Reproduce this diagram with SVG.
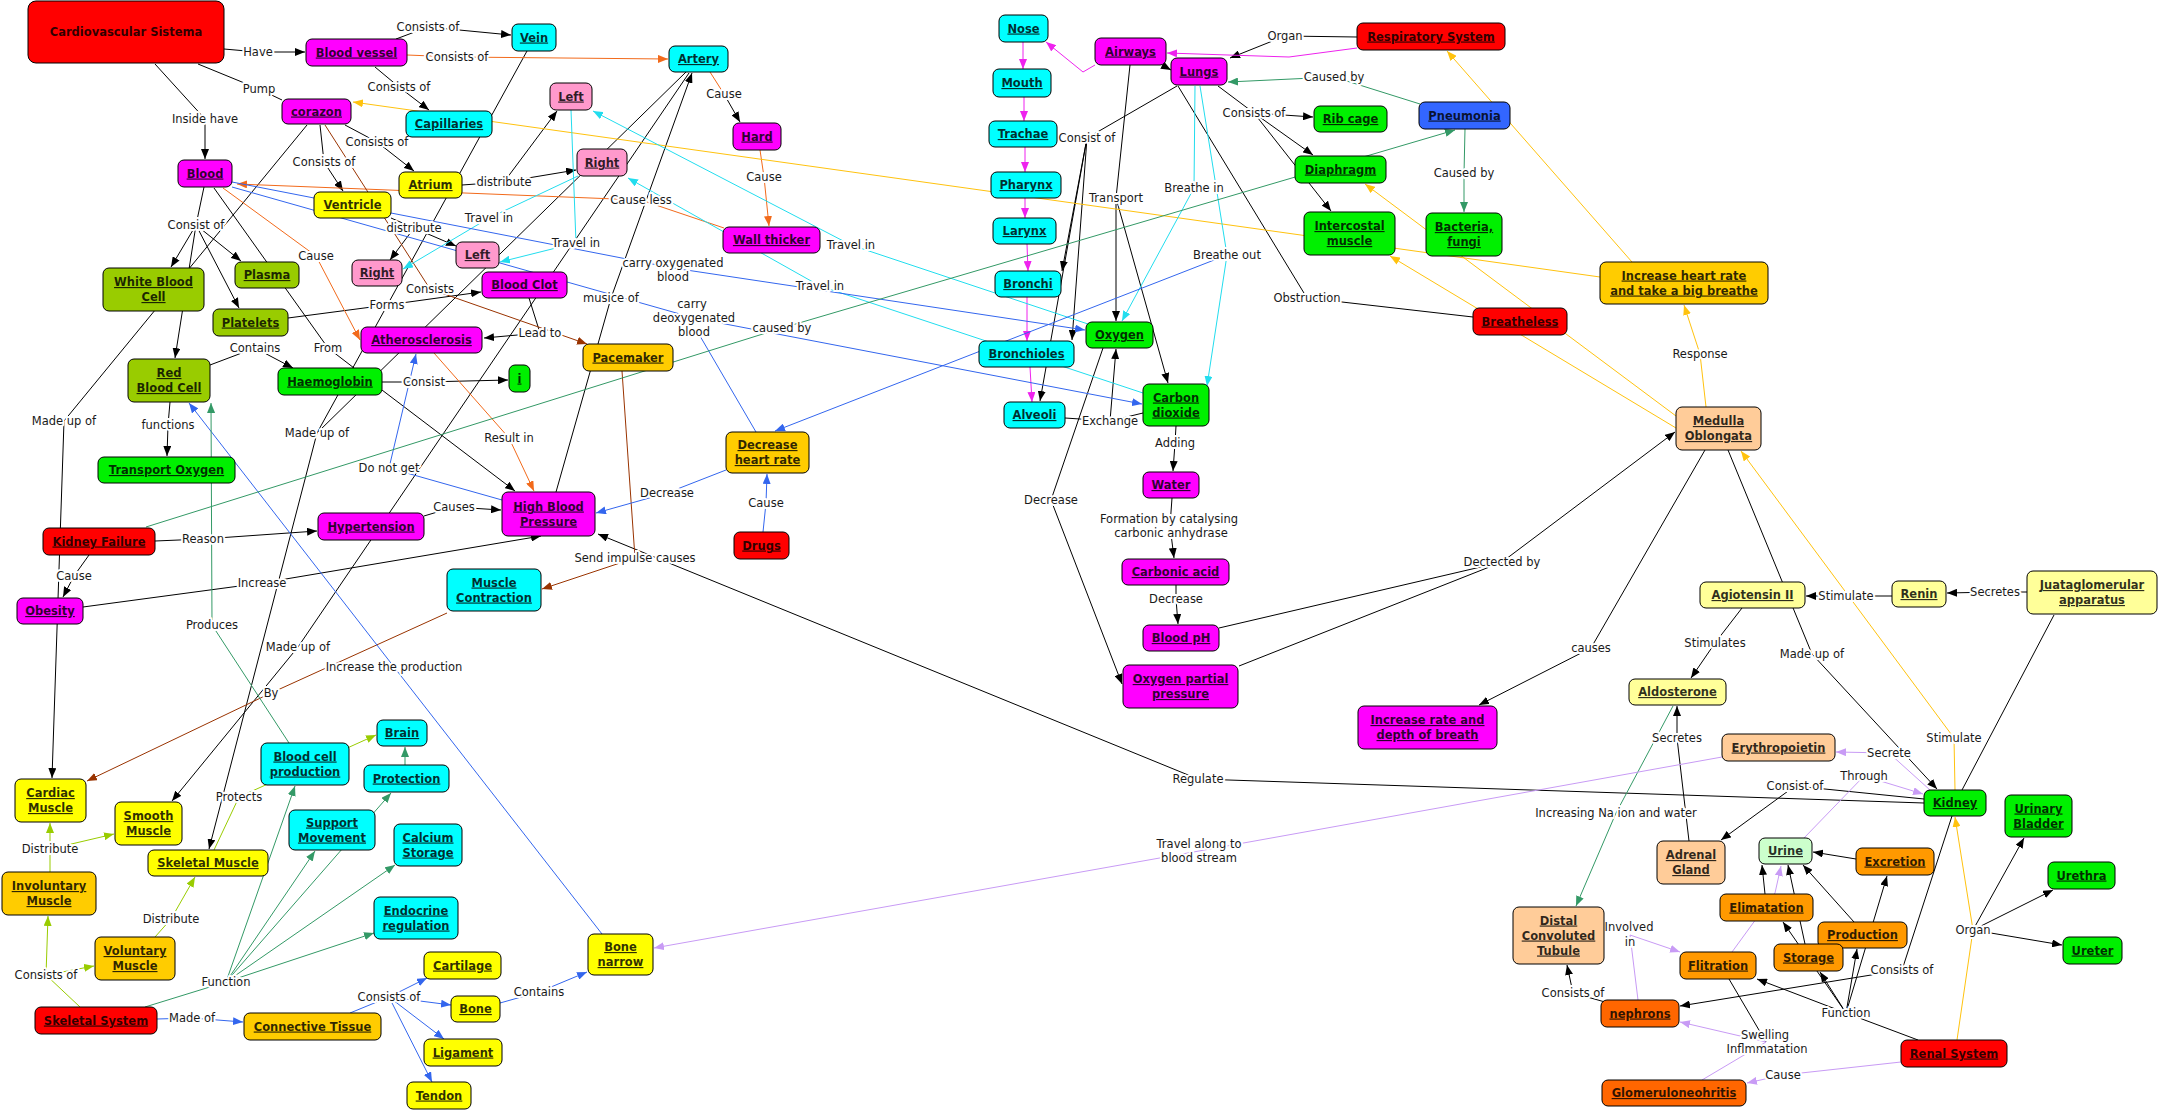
<svg xmlns="http://www.w3.org/2000/svg" width="2158" height="1112" viewBox="0 0 2158 1112">
<style>
.n rect{stroke:#000;stroke-width:1}
.t{font-family:"DejaVu Sans",Verdana,sans-serif;font-size:11.5px;font-weight:bold;text-anchor:middle;text-decoration:underline;fill:#000;fill-opacity:.82}
.nu{text-decoration:none}
.l{font-family:"DejaVu Sans",Verdana,sans-serif;font-size:11.5px;text-anchor:middle;fill:#1a1a1a;stroke:#fff;stroke-width:4;stroke-linejoin:round;paint-order:stroke}
#connectors path{fill:none;stroke-width:1}
.k{stroke:#000}.o{stroke:#F26A1B}.br{stroke:#993300}.y{stroke:#FFC20E}.m{stroke:#EE22EE}.c{stroke:#22DDEE}.b{stroke:#3366EE}.g{stroke:#339966}.yg{stroke:#99CC00}.p{stroke:#C89BF5}
.r{fill:#FF0000}.mg{fill:#FF00FF}.cy{fill:#00FFFF}.ye{fill:#FFFF00}.pk{fill:#FF99CC}.ol{fill:#99CC00}.gr{fill:#00F000}.or{fill:#FFCC00}.o2{fill:#FF9900}.o3{fill:#FF6600}.pe{fill:#FFCC99}.ly{fill:#FFFF99}.lg{fill:#CCFFCC}.bl{fill:#3366FF}
</style>
<defs>
<marker id="ak" viewBox="0 0 10 8" refX="10" refY="4" markerWidth="10" markerHeight="8" markerUnits="userSpaceOnUse" orient="auto"><path d="M0,0L10,4L0,8z" fill="#000"/></marker>
<marker id="ao" viewBox="0 0 10 8" refX="10" refY="4" markerWidth="10" markerHeight="8" markerUnits="userSpaceOnUse" orient="auto"><path d="M0,0L10,4L0,8z" fill="#F26A1B"/></marker>
<marker id="abr" viewBox="0 0 10 8" refX="10" refY="4" markerWidth="10" markerHeight="8" markerUnits="userSpaceOnUse" orient="auto"><path d="M0,0L10,4L0,8z" fill="#993300"/></marker>
<marker id="ay" viewBox="0 0 10 8" refX="10" refY="4" markerWidth="10" markerHeight="8" markerUnits="userSpaceOnUse" orient="auto"><path d="M0,0L10,4L0,8z" fill="#FFC20E"/></marker>
<marker id="am" viewBox="0 0 10 8" refX="10" refY="4" markerWidth="10" markerHeight="8" markerUnits="userSpaceOnUse" orient="auto"><path d="M0,0L10,4L0,8z" fill="#EE22EE"/></marker>
<marker id="ac" viewBox="0 0 10 8" refX="10" refY="4" markerWidth="10" markerHeight="8" markerUnits="userSpaceOnUse" orient="auto"><path d="M0,0L10,4L0,8z" fill="#22DDEE"/></marker>
<marker id="ab" viewBox="0 0 10 8" refX="10" refY="4" markerWidth="10" markerHeight="8" markerUnits="userSpaceOnUse" orient="auto"><path d="M0,0L10,4L0,8z" fill="#3366EE"/></marker>
<marker id="ag" viewBox="0 0 10 8" refX="10" refY="4" markerWidth="10" markerHeight="8" markerUnits="userSpaceOnUse" orient="auto"><path d="M0,0L10,4L0,8z" fill="#339966"/></marker>
<marker id="ayg" viewBox="0 0 10 8" refX="10" refY="4" markerWidth="10" markerHeight="8" markerUnits="userSpaceOnUse" orient="auto"><path d="M0,0L10,4L0,8z" fill="#99CC00"/></marker>
<marker id="ap" viewBox="0 0 10 8" refX="10" refY="4" markerWidth="10" markerHeight="8" markerUnits="userSpaceOnUse" orient="auto"><path d="M0,0L10,4L0,8z" fill="#C89BF5"/></marker>
</defs>
<rect width="2158" height="1112" fill="#fff"/>
<g id="connectors">
<g class="k">
<path d="M224,49L258,52"/><path d="M258,52L305,52" marker-end="url(#ak)"/>
<path d="M198,64L259,89L282,100"/>
<path d="M155,64L205,119"/><path d="M205,119L205,159" marker-end="url(#ak)"/>
<path d="M396,39L428,27"/><path d="M428,27L511,35" marker-end="url(#ak)"/>
<path d="M375,67L399,87"/><path d="M399,87L429,110" marker-end="url(#ak)"/>
<path d="M345,125L377,142"/><path d="M377,142L414,171" marker-end="url(#ak)"/>
<path d="M320,125L324,162"/><path d="M324,162L343,191" marker-end="url(#ak)"/>
<path d="M1218,86L1254,113"/><path d="M1254,113L1313,117" marker-end="url(#ak)"/><path d="M1254,113L1313,155" marker-end="url(#ak)"/><path d="M1254,113L1331,211" marker-end="url(#ak)"/>
<path d="M1357,37L1285,36"/><path d="M1285,36L1230,58" marker-end="url(#ak)"/>
<path d="M1130,65L1116,198"/><path d="M1116,198L1116,321" marker-end="url(#ak)"/><path d="M1116,198L1168,383" marker-end="url(#ak)"/>
<path d="M1177,86L1087,138"/><path d="M1087,138L1062,271" marker-end="url(#ak)"/><path d="M1087,138L1072,340" marker-end="url(#ak)"/><path d="M1087,138L1040,401" marker-end="url(#ak)"/>
<path d="M462,185L504,182"/><path d="M504,182L576,170" marker-end="url(#ak)"/><path d="M504,182L557,111" marker-end="url(#ak)"/>
<path d="M391,218L414,228"/><path d="M414,228L456,246" marker-end="url(#ak)"/><path d="M414,228L390,260" marker-end="url(#ak)"/>
<path d="M288,318L387,305"/><path d="M387,305L481,292" marker-end="url(#ak)"/>
<path d="M529,298L540,333"/><path d="M540,333L484,338" marker-end="url(#ak)"/>
<path d="M214,188L328,348L354,368"/>
<path d="M210,365L255,348"/><path d="M255,348L293,368" marker-end="url(#ak)"/>
<path d="M382,382L424,382"/><path d="M424,382L508,380" marker-end="url(#ak)"/>
<path d="M204,187L196,225"/><path d="M196,225L171,267" marker-end="url(#ak)"/><path d="M196,225L241,261" marker-end="url(#ak)"/><path d="M196,225L239,308" marker-end="url(#ak)"/><path d="M196,225L175,358" marker-end="url(#ak)"/>
<path d="M307,125L64,421"/><path d="M64,421L52,778" marker-end="url(#ak)"/>
<path d="M170,402L168,425"/><path d="M168,425L167,456" marker-end="url(#ak)"/>
<path d="M382,390L515,491" marker-end="url(#ak)"/>
<path d="M527,51L317,433"/><path d="M686,72L317,433"/><path d="M317,433L209,849" marker-end="url(#ak)"/>
<path d="M689,73L298,647"/><path d="M298,647L172,801" marker-end="url(#ak)"/>
<path d="M556,492L611,298"/><path d="M611,298L692,73" marker-end="url(#ak)"/>
<path d="M424,516L454,507"/><path d="M454,507L501,510" marker-end="url(#ak)"/>
<path d="M155,541L203,539"/><path d="M203,539L317,531" marker-end="url(#ak)"/>
<path d="M89,555L74,576"/><path d="M74,576L63,597" marker-end="url(#ak)"/>
<path d="M83,607L262,583"/><path d="M262,583L541,536" marker-end="url(#ak)"/>
<path d="M1924,803L1198,779"/><path d="M1198,779L598,534" marker-end="url(#ak)"/>
<path d="M1065,418L1110,421"/><path d="M1110,421L1143,413"/><path d="M1110,421L1116,349" marker-end="url(#ak)"/>
<path d="M1103,348L1051,500"/><path d="M1051,500L1122,684" marker-end="url(#ak)"/>
<path d="M1176,426L1175,443"/><path d="M1175,443L1173,471" marker-end="url(#ak)"/>
<path d="M1172,498L1170,526"/><path d="M1170,526L1174,558" marker-end="url(#ak)"/>
<path d="M1176,585L1176,599"/><path d="M1176,599L1178,624" marker-end="url(#ak)"/>
<path d="M1219,628L1502,562"/><path d="M1239,666L1502,562"/><path d="M1502,562L1675,432" marker-end="url(#ak)"/>
<path d="M1705,450L1591,648"/><path d="M1591,648L1479,705" marker-end="url(#ak)"/>
<path d="M1728,450L1812,654"/><path d="M1812,654L1937,789" marker-end="url(#ak)"/>
<path d="M1973,930L2024,838" marker-end="url(#ak)"/><path d="M1973,930L2053,890" marker-end="url(#ak)"/><path d="M1973,930L2062,945" marker-end="url(#ak)"/>
<path d="M1892,596L1846,596"/><path d="M1846,596L1806,596" marker-end="url(#ak)"/>
<path d="M2027,592L1995,592"/><path d="M1995,592L1947,593" marker-end="url(#ak)"/>
<path d="M1742,608L1715,643"/><path d="M1715,643L1691,678" marker-end="url(#ak)"/>
<path d="M2054,615L1962,790"/>
<path d="M1689,841L1677,738"/><path d="M1677,738L1677,706" marker-end="url(#ak)"/>
<path d="M1924,799L1795,786"/><path d="M1795,786L1721,840" marker-end="url(#ak)"/>
<path d="M1856,859L1813,852" marker-end="url(#ak)"/>
<path d="M1765,894L1762,865" marker-end="url(#ak)"/>
<path d="M1805,944L1788,865" marker-end="url(#ak)"/>
<path d="M1854,922L1803,865" marker-end="url(#ak)"/>
<path d="M1918,1040L1846,1013"/><path d="M1846,1013L1757,979" marker-end="url(#ak)"/><path d="M1846,1013L1820,972" marker-end="url(#ak)"/><path d="M1846,1013L1857,949" marker-end="url(#ak)"/><path d="M1846,1013L1887,876" marker-end="url(#ak)"/><path d="M1846,1013L1783,922" marker-end="url(#ak)"/>
<path d="M1952,816L1902,970"/><path d="M1902,970L1680,1006" marker-end="url(#ak)"/>
<path d="M1729,979L1766,1042"/>
<path d="M1605,1002L1573,993"/><path d="M1573,993L1567,965" marker-end="url(#ak)"/>
<path d="M1178,86L1307,298L1473,317"/>
<path d="M724,94L740,122" marker-end="url(#ak)"/>
<path d="M1162,65L1171,70" marker-end="url(#ak)"/>
</g>
<g class="o">
<path d="M407,55L457,57"/><path d="M457,57L668,59" marker-end="url(#ao)"/>
<path d="M710,72L724,94"/>
<path d="M760,150L764,177"/><path d="M764,177L769,226" marker-end="url(#ao)"/>
<path d="M724,228L641,200"/><path d="M641,200L237,184" marker-end="url(#ao)"/>
<path d="M223,188L316,256"/><path d="M316,256L360,340" marker-end="url(#ao)"/>
<path d="M434,353L509,438"/><path d="M509,438L534,491" marker-end="url(#ao)"/>
</g>
<g class="br">
<path d="M325,125L430,289"/><path d="M430,289L587,344" marker-end="url(#abr)"/>
<path d="M622,371L635,558"/><path d="M635,558L542,589" marker-end="url(#abr)"/>
<path d="M447,613L271,693"/><path d="M271,693L87,781" marker-end="url(#abr)"/>
</g>
<g class="y">
<path d="M1600,277L353,102" marker-end="url(#ay)"/>
<path d="M1632,262L1447,51" marker-end="url(#ay)"/>
<path d="M1706,407L1700,354"/><path d="M1700,354L1684,305" marker-end="url(#ay)"/>
<path d="M1676,416L1365,184" marker-end="url(#ay)"/>
<path d="M1676,428L1390,256" marker-end="url(#ay)"/>
<path d="M1955,790L1954,738"/><path d="M1954,738L1741,451" marker-end="url(#ay)"/>
<path d="M1957,1040L1973,930"/><path d="M1973,930L1955,817" marker-end="url(#ay)"/>
</g>
<g class="m">
<path d="M1357,48L1289,57L1167,53" marker-end="url(#am)"/>
<path d="M1095,65L1083,72L1046,42" marker-end="url(#am)"/>
<path d="M1023,42L1023,69" marker-end="url(#am)"/>
<path d="M1024,97L1024,121" marker-end="url(#am)"/>
<path d="M1025,147L1025,172" marker-end="url(#am)"/>
<path d="M1025,198L1025,218" marker-end="url(#am)"/>
<path d="M1027,244L1028,271" marker-end="url(#am)"/>
<path d="M1027,297L1027,341" marker-end="url(#am)"/>
<path d="M1030,367L1032,402" marker-end="url(#am)"/>
</g>
<g class="c">
<path d="M1195,86L1194,188"/><path d="M1194,188L1122,321" marker-end="url(#ac)"/>
<path d="M1200,86L1227,255"/><path d="M1227,255L1207,386" marker-end="url(#ac)"/>
<path d="M1088,324L851,245"/><path d="M851,245L593,111" marker-end="url(#ac)"/>
<path d="M1143,393L820,286"/><path d="M820,286L628,178" marker-end="url(#ac)"/>
<path d="M578,176L489,218"/><path d="M489,218L403,269" marker-end="url(#ac)"/>
<path d="M571,110L576,243"/><path d="M576,243L500,262" marker-end="url(#ac)"/>
</g>
<g class="b">
<path d="M1227,255L775,431" marker-end="url(#ab)"/>
<path d="M232,182L673,268"/><path d="M673,268L1085,330" marker-end="url(#ab)"/>
<path d="M232,187L694,318"/><path d="M694,318L1142,404" marker-end="url(#ab)"/>
<path d="M700,336L756,432"/>
<path d="M602,934L394,667"/><path d="M394,667L189,403" marker-end="url(#ab)"/>
<path d="M502,500L389,468"/><path d="M389,468L416,354" marker-end="url(#ab)"/>
<path d="M726,470L667,493"/><path d="M667,493L596,513" marker-end="url(#ab)"/>
<path d="M763,532L766,503"/><path d="M766,503L767,474" marker-end="url(#ab)"/>
<path d="M157,1019L192,1018"/><path d="M192,1018L243,1022" marker-end="url(#ab)"/>
<path d="M350,1013L389,997"/><path d="M389,997L427,978" marker-end="url(#ab)"/><path d="M389,997L451,1005" marker-end="url(#ab)"/><path d="M389,997L444,1039" marker-end="url(#ab)"/><path d="M389,997L432,1082" marker-end="url(#ab)"/>
<path d="M500,1003L539,992"/><path d="M539,992L587,972" marker-end="url(#ab)"/>
</g>
<g class="g">
<path d="M1420,104L1334,77"/><path d="M1334,77L1228,82" marker-end="url(#ag)"/>
<path d="M1465,129L1464,174"/><path d="M1464,174L1464,212" marker-end="url(#ag)"/>
<path d="M146,527L782,328"/><path d="M782,328L1455,130" marker-end="url(#ag)"/>
<path d="M289,743L212,625"/><path d="M212,625L211,403" marker-end="url(#ag)"/>
<path d="M1673,706L1616,813"/><path d="M1616,813L1576,906" marker-end="url(#ag)"/>
<path d="M145,1007L226,982"/><path d="M226,982L295,786" marker-end="url(#ag)"/><path d="M226,982L315,851" marker-end="url(#ag)"/><path d="M226,982L391,793" marker-end="url(#ag)"/><path d="M226,982L395,865" marker-end="url(#ag)"/><path d="M226,982L374,933" marker-end="url(#ag)"/>
<path d="M405,765L405,747" marker-end="url(#ag)"/>
</g>
<g class="yg">
<path d="M80,1007L46,975"/><path d="M46,975L48,916" marker-end="url(#ayg)"/><path d="M46,975L94,966" marker-end="url(#ayg)"/>
<path d="M50,872L50,849"/><path d="M50,849L50,823" marker-end="url(#ayg)"/><path d="M50,849L114,834" marker-end="url(#ayg)"/>
<path d="M155,937L171,919"/><path d="M171,919L195,877" marker-end="url(#ayg)"/>
<path d="M214,850L239,797"/><path d="M239,797L376,735" marker-end="url(#ayg)"/>
</g>
<g class="p">
<path d="M1930,790L1889,753"/><path d="M1889,753L1836,752" marker-end="url(#ap)"/>
<path d="M1804,838L1864,776"/><path d="M1864,776L1923,794" marker-end="url(#ap)"/>
<path d="M1722,757L1199,851"/><path d="M1199,851L654,948" marker-end="url(#ap)"/>
<path d="M1732,952L1775,893L1781,866" marker-end="url(#ap)"/>
<path d="M1702,1080L1766,1042"/><path d="M1766,1042L1680,1022" marker-end="url(#ap)"/>
<path d="M1901,1062L1783,1075"/><path d="M1783,1075L1747,1083" marker-end="url(#ap)"/>
<path d="M1638,1000L1630,935"/><path d="M1630,935L1680,952" marker-end="url(#ap)"/>
</g>
<g id="labels">
<text class="l" x="258" y="56">Have</text>
<text class="l" x="259" y="93">Pump</text>
<text class="l" x="205" y="123">Inside have</text>
<text class="l" x="428" y="31">Consists of</text>
<text class="l" x="457" y="61">Consists of</text>
<text class="l" x="399" y="91">Consists of</text>
<text class="l" x="377" y="146">Consists of</text>
<text class="l" x="324" y="166">Consists of</text>
<text class="l" x="196" y="229">Consist of</text>
<text class="l" x="316" y="260">Cause</text>
<text class="l" x="504" y="186">distribute</text>
<text class="l" x="414" y="232">distribute</text>
<text class="l" x="489" y="222">Travel in</text>
<text class="l" x="576" y="247">Travel in</text>
<text class="l" x="430" y="293">Consists</text>
<text class="l" x="387" y="309">Forms</text>
<text class="l" x="540" y="337">Lead to</text>
<text class="l" x="255" y="352">Contains</text>
<text class="l" x="328" y="352">From</text>
<text class="l" x="424" y="386">Consist</text>
<text class="l" x="64" y="425">Made up of</text>
<text class="l" x="168" y="429">functions</text>
<text class="l" x="317" y="437">Made up of</text>
<text class="l" x="389" y="472">Do not get</text>
<text class="l" x="509" y="442">Result in</text>
<text class="l" x="454" y="511">Causes</text>
<text class="l" x="203" y="543">Reason</text>
<text class="l" x="74" y="580">Cause</text>
<text class="l" x="262" y="587">Increase</text>
<text class="l" x="212" y="629">Produces</text>
<text class="l" x="298" y="651">Made up of</text>
<text class="l" x="394" y="671">Increase the production</text>
<text class="l" x="271" y="697">By</text>
<text class="l" x="239" y="801">Protects</text>
<text class="l" x="50" y="853">Distribute</text>
<text class="l" x="171" y="923">Distribute</text>
<text class="l" x="46" y="979">Consists of</text>
<text class="l" x="226" y="986">Function</text>
<text class="l" x="192" y="1022">Made of</text>
<text class="l" x="389" y="1001">Consists of</text>
<text class="l" x="539" y="996">Contains</text>
<text class="l" x="724" y="98">Cause</text>
<text class="l" x="764" y="181">Cause</text>
<text class="l" x="641" y="204">Cause less</text>
<text class="l" x="851" y="249">Travel in</text>
<text class="l" x="673" y="267">carry oxygenated</text>
<text class="l" x="673" y="281">blood</text>
<text class="l" x="611" y="302">musice of</text>
<text class="l" x="820" y="290">Travel in</text>
<text class="l" x="692" y="308">carry</text>
<text class="l" x="694" y="322">deoxygenated</text>
<text class="l" x="694" y="336">blood</text>
<text class="l" x="782" y="332">caused by</text>
<text class="l" x="667" y="497">Decrease</text>
<text class="l" x="766" y="507">Cause</text>
<text class="l" x="635" y="562">Send impulse causes</text>
<text class="l" x="1087" y="142">Consist of</text>
<text class="l" x="1116" y="202">Transport</text>
<text class="l" x="1194" y="192">Breathe in</text>
<text class="l" x="1227" y="259">Breathe out</text>
<text class="l" x="1285" y="40">Organ</text>
<text class="l" x="1334" y="81">Caused by</text>
<text class="l" x="1254" y="117">Consists of</text>
<text class="l" x="1464" y="177">Caused by</text>
<text class="l" x="1307" y="302">Obstruction</text>
<text class="l" x="1110" y="425">Exchange</text>
<text class="l" x="1051" y="504">Decrease</text>
<text class="l" x="1175" y="447">Adding</text>
<text class="l" x="1169" y="523">Formation by catalysing</text>
<text class="l" x="1171" y="537">carbonic anhydrase</text>
<text class="l" x="1176" y="603">Decrease</text>
<text class="l" x="1502" y="566">Dectected by</text>
<text class="l" x="1591" y="652">causes</text>
<text class="l" x="1700" y="358">Response</text>
<text class="l" x="1846" y="600">Stimulate</text>
<text class="l" x="1995" y="596">Secretes</text>
<text class="l" x="1715" y="647">Stimulates</text>
<text class="l" x="1812" y="658">Made up of</text>
<text class="l" x="1954" y="742">Stimulate</text>
<text class="l" x="1677" y="742">Secretes</text>
<text class="l" x="1889" y="757">Secrete</text>
<text class="l" x="1864" y="780">Through</text>
<text class="l" x="1795" y="790">Consist of</text>
<text class="l" x="1198" y="783">Regulate</text>
<text class="l" x="1616" y="817">Increasing Na ion and water</text>
<text class="l" x="1199" y="848">Travel along to</text>
<text class="l" x="1199" y="862">blood stream</text>
<text class="l" x="1629" y="931">Involved</text>
<text class="l" x="1630" y="946">in</text>
<text class="l" x="1573" y="997">Consists of</text>
<text class="l" x="1973" y="934">Organ</text>
<text class="l" x="1902" y="974">Consists of</text>
<text class="l" x="1846" y="1017">Function</text>
<text class="l" x="1765" y="1039">Swelling</text>
<text class="l" x="1767" y="1053">Inflmmatation</text>
<text class="l" x="1783" y="1079">Cause</text>
</g>
</g>
<g id="cardiovascular-sistema" class="n"><rect class="r" x="28" y="1" width="196" height="62" rx="8"/><text class="t nu" x="126" y="36">Cardiovascular Sistema</text></g>
<g id="blood-vessel" class="n"><rect class="mg" x="306" y="39" width="101" height="27" rx="6"/><text class="t" x="356.5" y="56.5">Blood vessel</text></g>
<g id="vein" class="n"><rect class="cy" x="512" y="24" width="44" height="27" rx="6"/><text class="t" x="534" y="41.5">Vein</text></g>
<g id="corazon" class="n"><rect class="mg" x="282" y="99" width="69" height="25" rx="6"/><text class="t" x="316.5" y="115.5">corazon</text></g>
<g id="capillaries" class="n"><rect class="cy" x="406" y="111" width="86" height="26" rx="6"/><text class="t" x="449" y="128">Capillaries</text></g>
<g id="artery" class="n"><rect class="cy" x="669" y="46" width="59" height="26" rx="6"/><text class="t" x="698.5" y="63">Artery</text></g>
<g id="left-upper" class="n"><rect class="pk" x="550" y="83" width="42" height="27" rx="6"/><text class="t" x="571" y="100.5">Left</text></g>
<g id="hard" class="n"><rect class="mg" x="733" y="123" width="48" height="27" rx="6"/><text class="t" x="757" y="140.5">Hard</text></g>
<g id="right-upper" class="n"><rect class="pk" x="577" y="149" width="50" height="27" rx="6"/><text class="t" x="602" y="166.5">Right</text></g>
<g id="blood" class="n"><rect class="mg" x="178" y="160" width="54" height="27" rx="6"/><text class="t" x="205" y="177.5">Blood</text></g>
<g id="atrium" class="n"><rect class="ye" x="399" y="172" width="63" height="26" rx="6"/><text class="t" x="430.5" y="189">Atrium</text></g>
<g id="ventricle" class="n"><rect class="ye" x="314" y="192" width="77" height="26" rx="6"/><text class="t" x="352.5" y="209">Ventricle</text></g>
<g id="wall-thicker" class="n"><rect class="mg" x="723" y="227" width="97" height="26" rx="6"/><text class="t" x="771.5" y="244">Wall thicker</text></g>
<g id="left-lower" class="n"><rect class="pk" x="456" y="242" width="43" height="26" rx="6"/><text class="t" x="477.5" y="259">Left</text></g>
<g id="right-lower" class="n"><rect class="pk" x="352" y="260" width="50" height="26" rx="6"/><text class="t" x="377" y="277">Right</text></g>
<g id="plasma" class="n"><rect class="ol" x="235" y="262" width="64" height="26" rx="6"/><text class="t" x="267" y="279">Plasma</text></g>
<g id="white-blood-cell" class="n"><rect class="ol" x="103" y="268" width="101" height="43" rx="6"/><text class="t" x="153.5" y="286">White Blood</text><text class="t" x="153.5" y="301">Cell</text></g>
<g id="blood-clot" class="n"><rect class="mg" x="482" y="272" width="85" height="26" rx="6"/><text class="t" x="524.5" y="289">Blood Clot</text></g>
<g id="platelets" class="n"><rect class="ol" x="213" y="309" width="75" height="27" rx="6"/><text class="t" x="250.5" y="326.5">Platelets</text></g>
<g id="atherosclerosis" class="n"><rect class="mg" x="361" y="327" width="121" height="26" rx="6"/><text class="t" x="421.5" y="344">Atherosclerosis</text></g>
<g id="pacemaker" class="n"><rect class="or" x="583" y="344" width="90" height="27" rx="6"/><text class="t" x="628" y="361.5">Pacemaker</text></g>
<g id="red-blood-cell" class="n"><rect class="ol" x="128" y="359" width="82" height="43" rx="6"/><text class="t" x="169" y="377">Red</text><text class="t" x="169" y="392">Blood Cell</text></g>
<g id="haemoglobin" class="n"><rect class="gr" x="278" y="368" width="104" height="27" rx="6"/><text class="t" x="330" y="385.5">Haemoglobin</text></g>
<g id="i" class="n"><rect class="gr" x="509" y="365" width="21" height="27" rx="6"/><text class="t" x="519.5" y="382.5">i</text></g>
<g id="transport-oxygen" class="n"><rect class="gr" x="98" y="457" width="137" height="26" rx="6"/><text class="t" x="166.5" y="474">Transport Oxygen</text></g>
<g id="high-blood-pressure" class="n"><rect class="mg" x="502" y="492" width="93" height="44" rx="6"/><text class="t" x="548.5" y="510.5">High Blood</text><text class="t" x="548.5" y="525.5">Pressure</text></g>
<g id="hypertension" class="n"><rect class="mg" x="318" y="513" width="106" height="27" rx="6"/><text class="t" x="371" y="530.5">Hypertension</text></g>
<g id="kidney-failure" class="n"><rect class="r" x="43" y="528" width="112" height="27" rx="6"/><text class="t" x="99" y="545.5">Kidney Failure</text></g>
<g id="muscle-contraction" class="n"><rect class="cy" x="447" y="569" width="94" height="42" rx="6"/><text class="t" x="494" y="586.5">Muscle</text><text class="t" x="494" y="601.5">Contraction</text></g>
<g id="obesity" class="n"><rect class="mg" x="17" y="598" width="66" height="26" rx="6"/><text class="t" x="50" y="615">Obesity</text></g>
<g id="decrease-heart-rate" class="n"><rect class="or" x="726" y="432" width="83" height="41" rx="6"/><text class="t" x="767.5" y="449">Decrease</text><text class="t" x="767.5" y="464">heart rate</text></g>
<g id="drugs" class="n"><rect class="r" x="734" y="532" width="55" height="27" rx="6"/><text class="t" x="761.5" y="549.5">Drugs</text></g>
<g id="brain" class="n"><rect class="cy" x="377" y="720" width="50" height="26" rx="6"/><text class="t" x="402" y="737">Brain</text></g>
<g id="blood-cell-production" class="n"><rect class="cy" x="261" y="743" width="88" height="42" rx="6"/><text class="t" x="305" y="760.5">Blood cell</text><text class="t" x="305" y="775.5">production</text></g>
<g id="protection" class="n"><rect class="cy" x="364" y="765" width="85" height="27" rx="6"/><text class="t" x="406.5" y="782.5">Protection</text></g>
<g id="cardiac-muscle" class="n"><rect class="ye" x="15" y="779" width="71" height="43" rx="6"/><text class="t" x="50.5" y="797">Cardiac</text><text class="t" x="50.5" y="812">Muscle</text></g>
<g id="smooth-muscle" class="n"><rect class="ye" x="115" y="802" width="67" height="43" rx="6"/><text class="t" x="148.5" y="820">Smooth</text><text class="t" x="148.5" y="835">Muscle</text></g>
<g id="support-movement" class="n"><rect class="cy" x="289" y="810" width="86" height="40" rx="6"/><text class="t" x="332" y="826.5">Support</text><text class="t" x="332" y="841.5">Movement</text></g>
<g id="calcium-storage" class="n"><rect class="cy" x="394" y="824" width="68" height="42" rx="6"/><text class="t" x="428" y="841.5">Calcium</text><text class="t" x="428" y="856.5">Storage</text></g>
<g id="skeletal-muscle" class="n"><rect class="ye" x="148" y="850" width="120" height="26" rx="6"/><text class="t" x="208" y="867">Skeletal Muscle</text></g>
<g id="involuntary-muscle" class="n"><rect class="or" x="2" y="872" width="94" height="43" rx="6"/><text class="t" x="49" y="890">Involuntary</text><text class="t" x="49" y="905">Muscle</text></g>
<g id="endocrine-regulation" class="n"><rect class="cy" x="374" y="897" width="84" height="42" rx="6"/><text class="t" x="416" y="914.5">Endocrine</text><text class="t" x="416" y="929.5">regulation</text></g>
<g id="voluntary-muscle" class="n"><rect class="or" x="95" y="937" width="80" height="43" rx="6"/><text class="t" x="135" y="955">Voluntary</text><text class="t" x="135" y="970">Muscle</text></g>
<g id="cartilage" class="n"><rect class="ye" x="424" y="952" width="77" height="27" rx="6"/><text class="t" x="462.5" y="969.5">Cartilage</text></g>
<g id="bone" class="n"><rect class="ye" x="451" y="996" width="49" height="26" rx="6"/><text class="t" x="475.5" y="1013">Bone</text></g>
<g id="skeletal-system" class="n"><rect class="r" x="35" y="1007" width="122" height="27" rx="6"/><text class="t" x="96" y="1024.5">Skeletal System</text></g>
<g id="connective-tissue" class="n"><rect class="or" x="244" y="1013" width="137" height="27" rx="6"/><text class="t" x="312.5" y="1030.5">Connective Tissue</text></g>
<g id="ligament" class="n"><rect class="ye" x="424" y="1039" width="78" height="27" rx="6"/><text class="t" x="463" y="1056.5">Ligament</text></g>
<g id="tendon" class="n"><rect class="ye" x="407" y="1082" width="64" height="27" rx="6"/><text class="t" x="439" y="1099.5">Tendon</text></g>
<g id="bone-narrow" class="n"><rect class="ye" x="588" y="934" width="65" height="41" rx="6"/><text class="t" x="620.5" y="951">Bone</text><text class="t" x="620.5" y="966">narrow</text></g>
<g id="nose" class="n"><rect class="cy" x="999" y="15" width="49" height="27" rx="6"/><text class="t" x="1023.5" y="32.5">Nose</text></g>
<g id="mouth" class="n"><rect class="cy" x="993" y="69" width="58" height="28" rx="6"/><text class="t" x="1022" y="87">Mouth</text></g>
<g id="trachae" class="n"><rect class="cy" x="989" y="121" width="68" height="26" rx="6"/><text class="t" x="1023" y="138">Trachae</text></g>
<g id="pharynx" class="n"><rect class="cy" x="991" y="172" width="70" height="26" rx="6"/><text class="t" x="1026" y="189">Pharynx</text></g>
<g id="larynx" class="n"><rect class="cy" x="993" y="218" width="63" height="26" rx="6"/><text class="t" x="1024.5" y="235">Larynx</text></g>
<g id="bronchi" class="n"><rect class="cy" x="995" y="271" width="66" height="26" rx="6"/><text class="t" x="1028" y="288">Bronchi</text></g>
<g id="bronchioles" class="n"><rect class="cy" x="979" y="341" width="95" height="26" rx="6"/><text class="t" x="1026.5" y="358">Bronchioles</text></g>
<g id="alveoli" class="n"><rect class="cy" x="1004" y="402" width="61" height="26" rx="6"/><text class="t" x="1034.5" y="419">Alveoli</text></g>
<g id="airways" class="n"><rect class="mg" x="1095" y="38" width="71" height="27" rx="6"/><text class="t" x="1130.5" y="55.5">Airways</text></g>
<g id="lungs" class="n"><rect class="mg" x="1171" y="58" width="56" height="27" rx="6"/><text class="t" x="1199" y="75.5">Lungs</text></g>
<g id="respiratory-system" class="n"><rect class="r" x="1357" y="23" width="148" height="27" rx="6"/><text class="t" x="1431" y="40.5">Respiratory System</text></g>
<g id="rib-cage" class="n"><rect class="gr" x="1314" y="106" width="73" height="26" rx="6"/><text class="t" x="1350.5" y="123">Rib cage</text></g>
<g id="pneumonia" class="n"><rect class="bl" x="1419" y="102" width="91" height="27" rx="6"/><text class="t" x="1464.5" y="119.5">Pneumonia</text></g>
<g id="diaphragm" class="n"><rect class="gr" x="1295" y="156" width="91" height="27" rx="6"/><text class="t" x="1340.5" y="173.5">Diaphragm</text></g>
<g id="intercostal-muscle" class="n"><rect class="gr" x="1304" y="212" width="91" height="43" rx="6"/><text class="t" x="1349.5" y="230">Intercostal</text><text class="t" x="1349.5" y="245">muscle</text></g>
<g id="bacteria-fungi" class="n"><rect class="gr" x="1426" y="213" width="76" height="43" rx="6"/><text class="t" x="1464" y="231">Bacteria,</text><text class="t" x="1464" y="246">fungi</text></g>
<g id="breatheless" class="n"><rect class="r" x="1473" y="308" width="94" height="27" rx="6"/><text class="t" x="1520" y="325.5">Breatheless</text></g>
<g id="increase-heart-rate" class="n"><rect class="or" x="1600" y="262" width="168" height="42" rx="6"/><text class="t" x="1684" y="279.5">Increase heart rate</text><text class="t" x="1684" y="294.5">and take a big breathe</text></g>
<g id="oxygen" class="n"><rect class="gr" x="1086" y="322" width="67" height="26" rx="6"/><text class="t" x="1119.5" y="339">Oxygen</text></g>
<g id="carbon-dioxide" class="n"><rect class="gr" x="1143" y="384" width="66" height="42" rx="6"/><text class="t" x="1176" y="401.5">Carbon</text><text class="t" x="1176" y="416.5">dioxide</text></g>
<g id="water" class="n"><rect class="mg" x="1143" y="472" width="56" height="26" rx="6"/><text class="t" x="1171" y="489">Water</text></g>
<g id="carbonic-acid" class="n"><rect class="mg" x="1122" y="559" width="107" height="26" rx="6"/><text class="t" x="1175.5" y="576">Carbonic acid</text></g>
<g id="blood-ph" class="n"><rect class="mg" x="1143" y="625" width="76" height="26" rx="6"/><text class="t" x="1181" y="642">Blood pH</text></g>
<g id="oxygen-partial-pressure" class="n"><rect class="mg" x="1123" y="665" width="115" height="43" rx="6"/><text class="t" x="1180.5" y="683">Oxygen partial</text><text class="t" x="1180.5" y="698">pressure</text></g>
<g id="increase-rate-depth" class="n"><rect class="mg" x="1358" y="706" width="139" height="43" rx="6"/><text class="t" x="1427.5" y="724">Increase rate and</text><text class="t" x="1427.5" y="739">depth of breath</text></g>
<g id="medulla-oblongata" class="n"><rect class="pe" x="1676" y="407" width="85" height="43" rx="6"/><text class="t" x="1718.5" y="425">Medulla</text><text class="t" x="1718.5" y="440">Oblongata</text></g>
<g id="agiotensin-ii" class="n"><rect class="ly" x="1700" y="582" width="105" height="26" rx="6"/><text class="t" x="1752.5" y="599">Agiotensin II</text></g>
<g id="renin" class="n"><rect class="ly" x="1892" y="581" width="54" height="26" rx="6"/><text class="t" x="1919" y="598">Renin</text></g>
<g id="juataglomerular-apparatus" class="n"><rect class="ly" x="2027" y="571" width="130" height="43" rx="6"/><text class="t" x="2092" y="589">Juataglomerular</text><text class="t" x="2092" y="604">apparatus</text></g>
<g id="aldosterone" class="n"><rect class="ly" x="1629" y="679" width="97" height="26" rx="6"/><text class="t" x="1677.5" y="696">Aldosterone</text></g>
<g id="erythropoietin" class="n"><rect class="pe" x="1722" y="734" width="113" height="27" rx="6"/><text class="t" x="1778.5" y="751.5">Erythropoietin</text></g>
<g id="kidney" class="n"><rect class="gr" x="1924" y="790" width="62" height="26" rx="6"/><text class="t" x="1955" y="807">Kidney</text></g>
<g id="urinary-bladder" class="n"><rect class="gr" x="2005" y="795" width="67" height="42" rx="6"/><text class="t" x="2038.5" y="812.5">Urinary</text><text class="t" x="2038.5" y="827.5">Bladder</text></g>
<g id="adrenal-gland" class="n"><rect class="pe" x="1657" y="841" width="68" height="43" rx="6"/><text class="t" x="1691" y="859">Adrenal</text><text class="t" x="1691" y="874">Gland</text></g>
<g id="urine" class="n"><rect class="lg" x="1759" y="838" width="53" height="26" rx="6"/><text class="t" x="1785.5" y="855">Urine</text></g>
<g id="excretion" class="n"><rect class="o2" x="1856" y="848" width="78" height="27" rx="6"/><text class="t" x="1895" y="865.5">Excretion</text></g>
<g id="urethra" class="n"><rect class="gr" x="2048" y="862" width="67" height="27" rx="6"/><text class="t" x="2081.5" y="879.5">Urethra</text></g>
<g id="elimatation" class="n"><rect class="o2" x="1720" y="894" width="93" height="27" rx="6"/><text class="t" x="1766.5" y="911.5">Elimatation</text></g>
<g id="production" class="n"><rect class="o2" x="1818" y="922" width="89" height="26" rx="6"/><text class="t" x="1862.5" y="939">Production</text></g>
<g id="storage" class="n"><rect class="o2" x="1774" y="944" width="69" height="27" rx="6"/><text class="t" x="1808.5" y="961.5">Storage</text></g>
<g id="flitration" class="n"><rect class="o2" x="1680" y="952" width="76" height="27" rx="6"/><text class="t" x="1718" y="969.5">Flitration</text></g>
<g id="ureter" class="n"><rect class="gr" x="2063" y="937" width="59" height="27" rx="6"/><text class="t" x="2092.5" y="954.5">Ureter</text></g>
<g id="distal-convoluted-tubule" class="n"><rect class="pe" x="1513" y="907" width="91" height="57" rx="6"/><text class="t" x="1558.5" y="924.5">Distal</text><text class="t" x="1558.5" y="939.5">Convoluted</text><text class="t" x="1558.5" y="954.5">Tubule</text></g>
<g id="nephrons" class="n"><rect class="o3" x="1601" y="1000" width="78" height="27" rx="6"/><text class="t" x="1640" y="1017.5">nephrons</text></g>
<g id="renal-system" class="n"><rect class="r" x="1901" y="1040" width="106" height="27" rx="6"/><text class="t" x="1954" y="1057.5">Renal System</text></g>
<g id="glomeruloneohritis" class="n"><rect class="o3" x="1602" y="1080" width="144" height="26" rx="6"/><text class="t" x="1674" y="1097">Glomeruloneohritis</text></g>
</svg>
